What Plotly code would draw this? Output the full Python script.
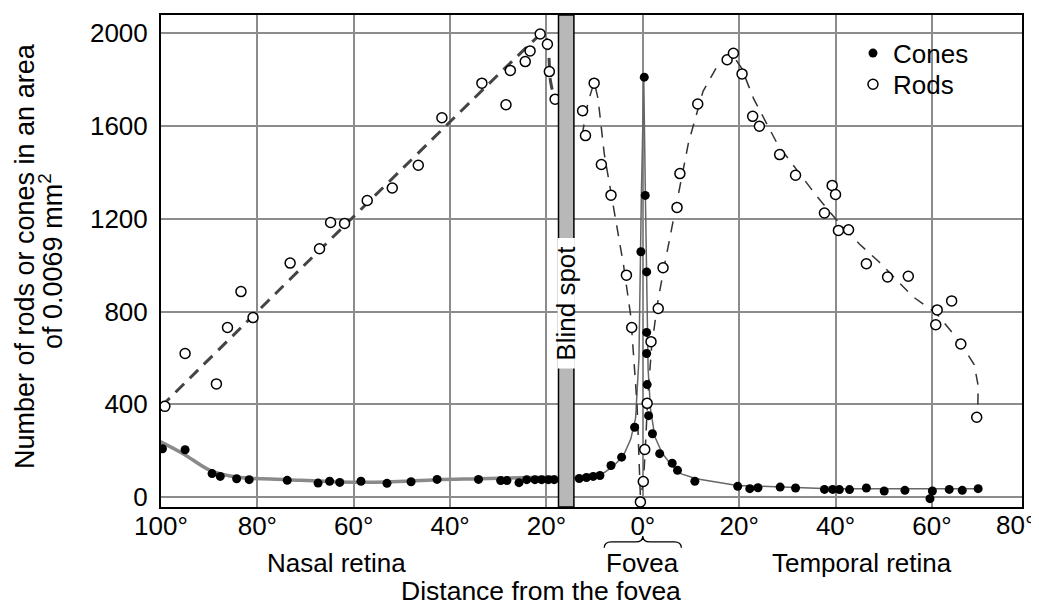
import plotly.graph_objects as go

# ---------------- data ----------------
# x: signed distance from fovea in degrees (nasal < 0, temporal > 0)
cones_x = [-99.7, -95.0, -89.4, -87.7, -84.3, -81.7, -73.8, -67.4, -65.0, -62.9, -58.5, -53.1,
           -48.1, -42.7, -34.1, -29.5, -28.2, -25.7, -24.1, -22.4, -21.0, -19.6, -18.4,
           -13.2, -11.7, -10.3, -8.9, -6.6, -4.4, -1.7, -0.4, 0.3, 0.5, 0.8, 0.8, 0.8, 0.9,
           1.2, 2.0, 3.5, 6.1, 7.2, 10.8, 19.7, 22.2, 23.9, 28.5, 31.7, 37.7, 39.4, 40.8,
           42.9, 46.4, 50.1, 54.4, 59.6, 60.1, 63.6, 66.3, 69.6]
cones_y = [208, 204, 101, 89, 79, 75, 72, 60, 68, 63, 68, 59,
           66, 76, 76, 71, 71, 62, 75, 75, 75, 75, 75,
           80, 84, 89, 93, 136, 172, 301, 1058, 1811, 1301, 971, 710, 619, 485,
           351, 273, 187, 146, 115, 68, 46, 36, 40, 43, 39, 33, 33, 32,
           32, 39, 26, 29, -7, 26, 33, 29, 36]

rods_x = [-99.2, -95.0, -88.5, -86.2, -83.4, -80.9, -73.2, -67.1, -64.8, -61.9, -57.2, -52.0,
          -46.6, -41.7, -33.4, -28.4, -27.5, -24.4, -23.4, -21.3, -19.8, -19.4, -18.2,
          -12.5, -11.9, -10.1, -8.6, -6.6, -3.4, -2.3, -0.5, 0.1, 0.4, 0.9, 1.7, 3.2, 4.2,
          7.1, 7.7, 11.4, 17.5, 18.8, 20.6, 22.8, 24.2, 28.4, 31.7, 37.7, 39.3, 40.0, 40.6,
          42.7, 46.4, 50.8, 55.1, 60.8, 61.1, 64.1, 66.0, 69.3]
rods_y = [391, 619, 488, 731, 886, 774, 1009, 1071, 1184, 1180, 1279, 1333,
          1431, 1636, 1785, 1692, 1840, 1878, 1924, 1997, 1953, 1835, 1716,
          1666, 1559, 1785, 1434, 1302, 957, 731, -21, 67, 205, 404, 670, 813, 989,
          1249, 1395, 1695, 1886, 1914, 1825, 1642, 1599, 1477, 1388, 1225, 1344, 1305, 1150,
          1153, 1006, 949, 952, 743, 807, 846, 660, 344]

# fitted curves
cone_fit_nasal_x = [-100.6, -95.4, -89.8, -84.3, -73.9, -62.8, -53.2, -42.8, -34.1, -17.9]
cone_fit_nasal_y = [244, 187, 115, 86, 75, 65, 65, 75, 79, 86]

cone_fit_fovea_x = [-14.3, -10, -8, -6, -4, -2.5, -1.5, -0.8, -0.3, 0.2, 0.5, 0.8, 1.1, 1.6,
                    2.5, 4, 6, 8, 11.1, 19.6, 38.8, 70]
cone_fit_fovea_y = [82, 90, 105, 135, 180, 250, 340, 600, 1300, 1800, 1350, 900, 550, 380,
                    260, 190, 135, 100, 79, 50, 36, 36]

rod_fit_nasal_x = [-100, -21.8, -20.8, -20.0, -19.5, -19.2, -18.2]
rod_fit_nasal_y = [390, 1985, 2000, 1975, 1900, 1800, 1700]

rod_fit_temporal_x = [-12.6, -11.4, -10.1, -9.3, -8.0, -6.0, -4.0, -2.5, -1.2, -0.5, 0.1, 0.5,
                      1.0, 1.8, 3.0, 4.5, 7.0, 9.5, 12.5, 15.5, 18.5, 20.5, 23.0, 28.0, 32.0,
                      36.0, 40.0, 45.0, 49.0, 56.0, 61.0, 64.0, 67.0, 68.8, 69.6, 69.5]
rod_fit_temporal_y = [1560, 1700, 1790, 1720, 1480, 1240, 1000, 780, 400, 0, 60, 200,
                      420, 640, 830, 1000, 1260, 1530, 1750, 1860, 1910, 1850, 1718, 1520, 1410,
                      1300, 1200, 1090, 1015, 865, 790, 715, 630, 570, 480, 344]

x_tick_vals = [-100, -80, -60, -40, -20, 0, 20, 40, 60]
x_tick_text = ["100°", "80°", "60°", "40°", "20°", "0°", "20°", "40°", "60°"]
y_tick_vals = [0, 400, 800, 1200, 1600, 2000]

x_range = [-100, 78.7]
blind_spot = [-17.5, -14.3]

FONT = "Liberation Sans, Arial, Helvetica, sans-serif"
TXT = dict(family=FONT, size=26, color="black")

fig = go.Figure()

fig.add_trace(go.Scatter(x=cone_fit_nasal_x, y=cone_fit_nasal_y, mode="lines",
                         line=dict(color="#8a8a8a", width=3.5, shape="spline"),
                         showlegend=False, hoverinfo="skip"))
fig.add_trace(go.Scatter(x=cone_fit_fovea_x, y=cone_fit_fovea_y, mode="lines",
                         line=dict(color="#666666", width=1.5),
                         showlegend=False, hoverinfo="skip"))
fig.add_trace(go.Scatter(x=rod_fit_nasal_x, y=rod_fit_nasal_y, mode="lines",
                         line=dict(color="#444444", width=3, dash="12px,8px", shape="spline",
                                   smoothing=0.6),
                         showlegend=False, hoverinfo="skip"))
fig.add_trace(go.Scatter(x=rod_fit_temporal_x, y=rod_fit_temporal_y, mode="lines",
                         line=dict(color="#333333", width=1.5, dash="11px,9px"),
                         showlegend=False, hoverinfo="skip"))

fig.add_trace(go.Scatter(x=cones_x, y=cones_y, mode="markers", name="Cones",
                         legend="legend",
                         marker=dict(symbol="circle", size=9, color="black",
                                     line=dict(width=0))))
fig.add_trace(go.Scatter(x=rods_x, y=rods_y, mode="markers", name="Rods",
                         legend="legend2",
                         marker=dict(symbol="circle", size=10, color="white",
                                     line=dict(width=1.5, color="black"))))

# blind spot band
fig.add_shape(type="rect", xref="x", yref="paper", x0=blind_spot[0], x1=blind_spot[1],
              y0=0, y1=1, fillcolor="#b8b8b8", line=dict(color="black", width=1.5),
              layer="above")
fig.add_shape(type="rect", xref="x", yref="y", x0=blind_spot[0] - 0.2, x1=blind_spot[1] + 0.2,
              y0=554, y1=1117, fillcolor="white", line=dict(width=0), layer="above")
fig.add_annotation(x=(blind_spot[0] + blind_spot[1]) / 2, y=835, xref="x", yref="y",
                   text="Blind spot", textangle=-90, showarrow=False,
                   xanchor="center", yanchor="middle", font=TXT)

# brace under the 0° label
yb, ym, yt = -0.083, -0.071, -0.059
fig.add_shape(type="path", xref="x", yref="paper",
              path=(f"M -8,{yb} Q -8,{ym} -6.5,{ym} L -1.5,{ym} Q 0,{ym} 0,{yt} "
                    f"Q 0,{ym} 1.5,{ym} L 6.5,{ym} Q 8,{ym} 8,{yb}"),
              line=dict(color="black", width=1.3))

lab_y = -0.1134
for xx, tt in [(-63.5, "Nasal retina"), (0, "Fovea"), (45.5, "Temporal retina")]:
    fig.add_annotation(x=xx, y=lab_y, xref="x", yref="paper", text=tt, showarrow=False,
                       xanchor="center", yanchor="middle", font=TXT)
fig.add_annotation(x=-21.1, y=-0.170, xref="x", yref="paper", text="Distance from the fovea",
                   showarrow=False, xanchor="center", yanchor="middle",
                   font=dict(family=FONT, size=26.5, color="black"))
# the 80° label sits at the right edge, just past the frame
fig.add_annotation(x=1.0174, y=-0.0364,
                   xref="paper", yref="paper", text="80°",
                   showarrow=False, xanchor="right", yanchor="middle", font=TXT)

# y-axis title (two lines)
fig.add_annotation(x=-0.158, y=0.51, xref="paper", yref="paper",
                   text="Number of rods or cones in an area", textangle=-90,
                   showarrow=False, xanchor="center", yanchor="middle",
                   font=dict(family=FONT, size=27, color="black"))
fig.add_annotation(x=-0.1278, y=0.50, xref="paper", yref="paper",
                   text="of 0.0069 mm<sup>2</sup>", textangle=-90,
                   showarrow=False, xanchor="center", yanchor="middle",
                   font=dict(family=FONT, size=27, color="black"))

fig.update_xaxes(range=x_range, tickvals=x_tick_vals, ticktext=x_tick_text,
                 showgrid=True, gridcolor="#8c8c8c", gridwidth=2, zeroline=False,
                 showline=True, mirror=True, linecolor="black", linewidth=2,
                 ticks="", ticklen=0, ticklabelstandoff=-5,
                 tickfont=TXT)
fig.update_yaxes(range=[-43, 2079], tickvals=y_tick_vals,
                 showgrid=True, gridcolor="#8c8c8c", gridwidth=2, zeroline=False,
                 showline=True, mirror=True, linecolor="black", linewidth=2,
                 ticks="", ticklen=0, ticklabelstandoff=6,
                 tickfont=TXT)

LEG = dict(xanchor="left", yanchor="top", bgcolor="rgba(0,0,0,0)", borderwidth=0,
           font=TXT, itemwidth=30)
fig.update_layout(
    width=1031, height=602,
    margin=dict(l=153, r=17, t=5, b=103),
    paper_bgcolor="white", plot_bgcolor="white",
    font=dict(family=FONT, color="black"),
    showlegend=True,
    legend=dict(x=0.8037, y=0.9702, **LEG),
    legend2=dict(x=0.8037, y=0.9069, **LEG),
)

fig.write_html("out.html")
